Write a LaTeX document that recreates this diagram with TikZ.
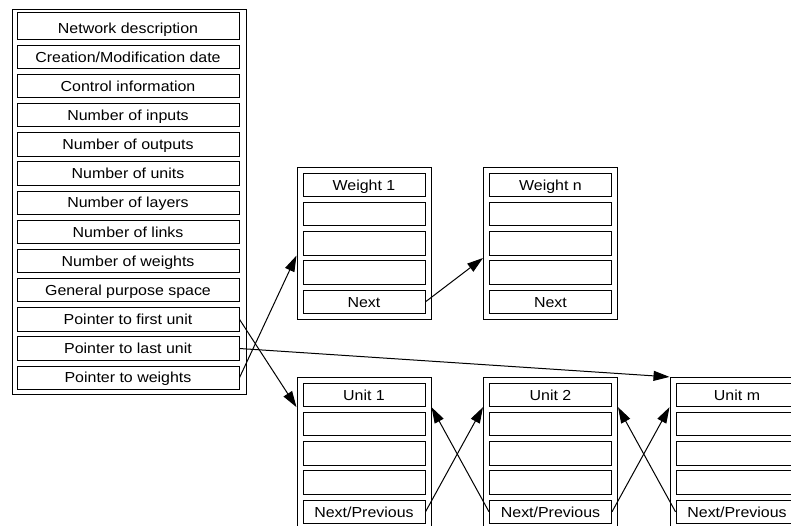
\documentclass[tikz,border=0pt]{standalone}
\usepackage{fontspec}
\setmainfont[FakeStretch=1.1]{Liberation Sans}
\usetikzlibrary{arrows.meta,calc}

\tikzset{
  cell/.style={draw, line width=1pt, minimum height=23.3pt, inner sep=0pt,
    text height=10.4pt, text depth=0pt, font=\fontsize{14.5}{16}\selectfont},
  hdrcell/.style={cell, minimum width=222pt},
  reccell/.style={cell, minimum width=122pt},
  frame/.style={draw, line width=1pt, inner sep=0pt},
  recframe/.style={frame, minimum width=134pt, minimum height=152pt},
  link/.style={line width=1pt, -{Triangle[length=16pt,width=10pt]}}
}

% one record: frame (#1) centred at (#2,#3), five cells #1-1 .. #1-5
\newcommand\recordbox[5]{%
  \node[recframe] (#1) at (#2,#3) {};
  \node[reccell] (#1-1) at (#2,#3-58.4) {#4};
  \node[reccell] (#1-2) at (#2,#3-29.2) {};
  \node[reccell] (#1-3) at (#2,#3) {};
  \node[reccell] (#1-4) at (#2,#3+29.2) {};
  \node[reccell] (#1-5) at (#2,#3+58.4) {#5};
}

\begin{document}
\begin{tikzpicture}[x=1pt, y=-1pt]
  \useasboundingbox (0,0) rectangle (791,525);
  \clip (0,0) rectangle (791,525);

  % network header block
  \node[frame, minimum width=234pt, minimum height=385pt] (hdr) at (129,201.5) {};
  \node[hdrcell, minimum height=26.6pt, text height=14.4pt] (h0) at (128,26) {Network description};
  \foreach \lbl [count=\i] in {Creation/Modification date, Control information,
      Number of inputs, Number of outputs, Number of units, Number of layers,
      Number of links, Number of weights, General purpose space,
      Pointer to first unit, Pointer to last unit, Pointer to weights}
    \node[hdrcell] (h\i) at (128,57+29.15*\i-29.15) {\lbl};

  % weight records
  \recordbox{w1}{364}{243.4}{Weight 1}{Next}
  \recordbox{wn}{550.5}{243.4}{Weight n}{Next}

  % unit records
  \recordbox{u1}{364}{453.4}{Unit 1}{Next/Previous}
  \recordbox{u2}{550.5}{453.4}{Unit 2}{Next/Previous}
  \recordbox{um}{737}{453.4}{Unit m}{Next/Previous}

  % pointers from the header
  \draw[link] (h10.east) -- (u1.west |- u1-1.south);
  \draw[link] (h11.east) -- (um.north west);
  \draw[link] (h12.east) -- (w1.west |- w1-3.south);

  % weight chain
  \coordinate (wngap) at ($(wn-3.south)!0.5!(wn-4.north)$);
  \draw[link] (w1-5.east) -- (wn.west |- wngap);

  % unit chain, forward and backward
  \draw[link] (u1-5.east) -- (u2.west |- u2-1.south);
  \draw[link] (u2-5.west) -- (u1.east |- u1-1.south);
  \draw[link] (u2-5.east) -- (um.west |- um-1.south);
  \draw[link] (um-5.west) -- (u2.east |- u2-1.south);
\end{tikzpicture}
\end{document}
